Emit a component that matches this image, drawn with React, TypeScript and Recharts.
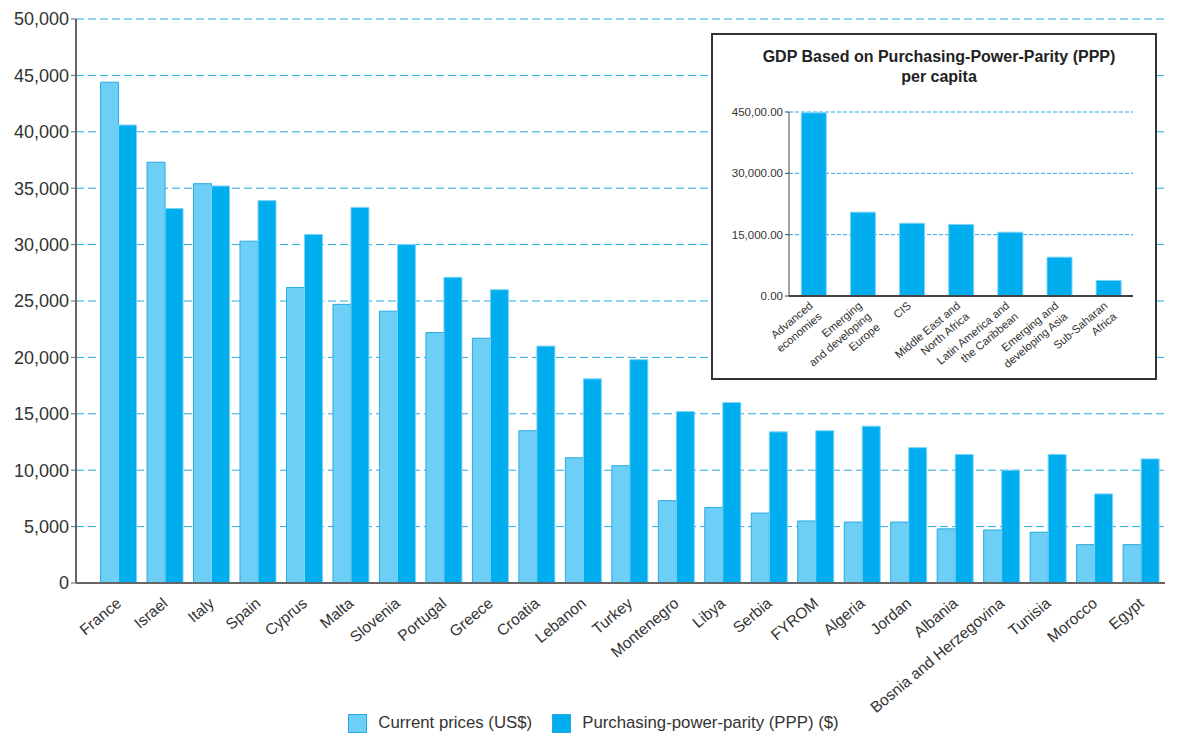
import { BarChart, Bar, XAxis, YAxis, CartesianGrid, Legend } from 'recharts';

const countries = [
  'France', 'Israel', 'Italy', 'Spain', 'Cyprus', 'Malta', 'Slovenia', 'Portugal',
  'Greece', 'Croatia', 'Lebanon', 'Turkey', 'Montenegro', 'Libya', 'Serbia', 'FYROM',
  'Algeria', 'Jordan', 'Albania', 'Bosnia and Herzegovina', 'Tunisia', 'Morocco', 'Egypt',
];
const currentPrices = [
  44400, 37300, 35400, 30300, 26200, 24700, 24100, 22200, 21700, 13500, 11100, 10400,
  7300, 6700, 6200, 5500, 5400, 5400, 4800, 4700, 4500, 3400, 3400,
];
const pppValues = [
  40600, 33200, 35200, 33900, 30900, 33300, 30000, 27100, 26000, 21000, 18100, 19800,
  15200, 16000, 13400, 13500, 13900, 12000, 11400, 10000, 11400, 7900, 11000,
];
const mainTicks = [0, 5000, 10000, 15000, 20000, 25000, 30000, 35000, 40000, 45000, 50000];

const regions = [
  'Advanced\neconomies',
  'Emerging\nand developing\nEurope',
  'CIS',
  'Middle East and\nNorth Africa',
  'Latin America and\nthe Caribbean',
  'Emerging and\ndeveloping Asia',
  'Sub-Saharan\nAfrica',
];
const regionPpp = [44800, 20500, 17800, 17500, 15600, 9500, 3800];
const insetTicks = [0, 15000, 30000, 45000];
const insetTickLabels = ['0.00', '15,000.00', '30,000.00', '450,00.00'];

const FONT = '"Liberation Sans", Arial, Helvetica, sans-serif';
const LIGHT = '#6dcff6';
const DARK = '#00aeef';
const GRID = '#29abe2';

const mainData = countries.map((name, i) => ({ name, current: currentPrices[i], ppp: pppValues[i] }));
const insetData = regions.map((name, i) => ({ name, ppp: regionPpp[i] }));

function CountryTick(props: any) {
  const { x, y, payload } = props;
  return (
    <g transform={`translate(${x + 4},${y + 14})`}>
      <text transform="rotate(-40)" textAnchor="end" fontSize={15.5} fill="#333" fontFamily={FONT}>
        {payload.value}
      </text>
    </g>
  );
}

function RegionTick(props: any) {
  const { x, y, payload } = props;
  const lines = String(payload.value).split('\n');
  return (
    <g transform={`translate(${x},${y + 3})`}>
      <text transform="rotate(-40)" textAnchor="end" fontSize={11.3} fill="#333" fontFamily={FONT}>
        {lines.map((l, i) => (
          <tspan key={i} x={0} dy={i === 0 ? 0 : 14}>{l}</tspan>
        ))}
      </text>
    </g>
  );
}

function LegendBox() {
  const item = (fill: string, stroke: string, label: string) => (
    <div style={{ display: 'flex', alignItems: 'center', marginRight: 20 }}>
      <div style={{ width: 17, height: 17, background: fill, border: `1px solid ${stroke}`, marginRight: 11 }} />
      <span style={{ fontSize: 16.8, color: '#333', fontFamily: FONT }}>{label}</span>
    </div>
  );
  return (
    <div style={{ display: 'flex', justifyContent: 'center', paddingLeft: 42, paddingTop: 8 }}>
      {item(LIGHT, GRID, 'Current prices (US$)')}
      {item(DARK, '#29abe2', 'Purchasing-power-parity (PPP) ($)')}
    </div>
  );
}

export default function App() {
  return (
    <div style={{ position: 'absolute', left: 0, top: 0, width: 1178, height: 733, background: '#fff', fontFamily: FONT }}>
      <BarChart
        width={1178}
        height={733}
        data={mainData}
        margin={{ top: 19, right: 13, left: 0, bottom: 0 }}
        barCategoryGap="12%"
        barGap={0}
      >
        <CartesianGrid vertical={false} stroke={GRID} strokeDasharray="8 4" />
        <XAxis
          dataKey="name"
          interval={0}
          height={122}
          padding={{ left: 19, right: 1 }}
          axisLine={{ stroke: '#666', strokeWidth: 2 }}
          tickLine={false}
          tick={<CountryTick />}
        />
        <YAxis
          width={76}
          domain={[0, 50000]}
          ticks={mainTicks}
          tickFormatter={(v: number) => v.toLocaleString('en-US')}
          axisLine={{ stroke: '#666', strokeWidth: 2 }}
          tickLine={{ stroke: '#666' }}
          tickSize={5}
          tick={{ fontSize: 18, fill: '#333', fontFamily: FONT }}
        />
        <Legend verticalAlign="bottom" height={28} content={() => <LegendBox />} />
        <Bar dataKey="current" name="Current prices (US$)" fill={LIGHT} stroke={GRID} strokeWidth={1} isAnimationActive={false} />
        <Bar dataKey="ppp" name="Purchasing-power-parity (PPP) ($)" fill={DARK} stroke="#7fd3f5" strokeWidth={1} isAnimationActive={false} />
      </BarChart>

      <div
        style={{
          position: 'absolute',
          left: 711,
          top: 33,
          width: 446,
          height: 347,
          boxSizing: 'border-box',
          border: '2px solid #333',
          background: '#fff',
        }}
      >
        <div
          style={{
            position: 'absolute',
            left: 0,
            top: 12,
            width: '100%',
            paddingLeft: 10,
            boxSizing: 'border-box',
            textAlign: 'center',
            fontSize: 16,
            fontWeight: 'bold',
            lineHeight: '19.5px',
            color: '#222',
            fontFamily: FONT,
          }}
        >
          GDP Based on Purchasing-Power-Parity (PPP)
          <br />
          per capita
        </div>
        <BarChart
          width={442}
          height={343}
          data={insetData}
          margin={{ top: 77, right: 22, left: 0, bottom: 0 }}
          barCategoryGap="25%"
        >
          <CartesianGrid vertical={false} stroke={GRID} strokeDasharray="4 2" />
          <XAxis
            dataKey="name"
            interval={0}
            height={82}
            axisLine={{ stroke: '#444', strokeWidth: 2 }}
            tickLine={false}
            tick={<RegionTick />}
          />
          <YAxis
            width={76}
            domain={[0, 45000]}
            ticks={insetTicks}
            tickFormatter={(v: number) => insetTickLabels[insetTicks.indexOf(v)]}
            axisLine={{ stroke: '#444', strokeWidth: 1 }}
            tickLine={{ stroke: '#444' }}
            tickSize={4}
            tick={{ fontSize: 11.5, fill: '#333', fontFamily: FONT }}
          />
          <Bar dataKey="ppp" fill={DARK} stroke="#7fd3f5" strokeWidth={1} isAnimationActive={false} />
        </BarChart>
      </div>
    </div>
  );
}
